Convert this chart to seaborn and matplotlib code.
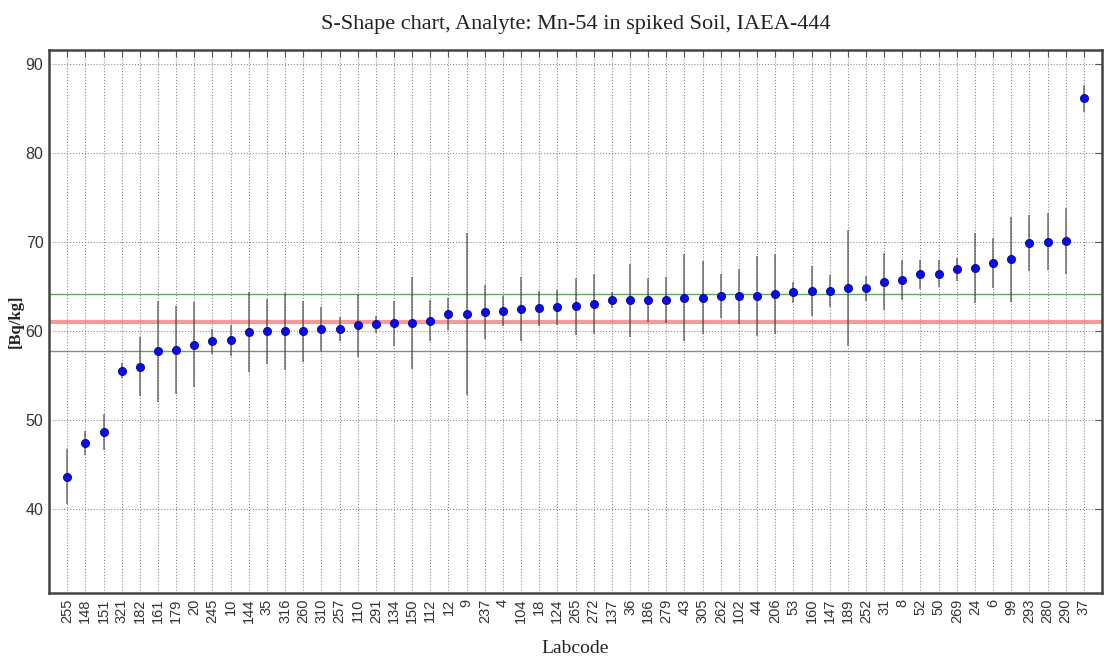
import matplotlib
matplotlib.use("Agg")
import matplotlib.pyplot as plt
import seaborn as sns
import pandas as pd
import numpy as np

# ---- data ----
labcodes = ['255', '148', '151', '321', '182', '161', '179', '20', '245', '10',
            '144', '35', '316', '260', '310', '257', '110', '291', '134', '150',
            '112', '12', '9', '237', '4', '104', '18', '124', '265', '272',
            '137', '36', '186', '279', '43', '305', '262', '102', '44', '206',
            '53', '160', '147', '189', '252', '31', '8', '52', '50', '269',
            '24', '6', '99', '293', '280', '290', '37']
values = [43.65, 47.46, 48.7, 55.6, 56.05, 57.76, 57.9, 58.5, 58.9, 59.0,
          59.9, 60.0, 60.0, 60.0, 60.25, 60.27, 60.67, 60.78, 60.9, 60.94,
          61.2, 61.95, 61.95, 62.17, 62.28, 62.5, 62.58, 62.7, 62.8, 63.07,
          63.5, 63.5, 63.55, 63.55, 63.8, 63.8, 63.96, 63.96, 63.96, 64.2,
          64.37, 64.56, 64.56, 64.86, 64.86, 65.6, 65.77, 66.4, 66.5, 67.0,
          67.1, 67.7, 68.1, 69.93, 70.08, 70.2, 86.2]
uncertainties = [3.08, 1.3, 2.05, 0.84, 3.27, 5.7, 4.95, 4.8, 1.4, 1.77,
                 4.5, 3.64, 4.3, 3.45, 2.5, 1.3, 3.5, 1.0, 2.5, 5.2,
                 2.3, 1.8, 9.1, 3.0, 1.7, 3.6, 2.0, 2.0, 3.2, 3.4,
                 0.9, 4.1, 2.5, 2.6, 4.9, 4.1, 2.5, 3.1, 4.5, 4.5,
                 1.2, 2.8, 1.8, 6.5, 1.4, 3.2, 2.3, 1.6, 1.5, 1.3,
                 3.9, 2.8, 4.8, 3.2, 3.2, 3.7, 1.5]
ref_value = 61.0
ref_unc = 3.2
y_ticks = [40, 50, 60, 70, 80, 90]

df = pd.DataFrame({"Labcode": labcodes, "Value": values, "Unc": uncertainties})
df["pos"] = np.arange(len(df))

sns.set_style("white")
plt.rcParams["font.family"] = ["Liberation Sans", "DejaVu Sans"]

fig, ax = plt.subplots(figsize=(11.07, 6.6), dpi=100)
fig.subplots_adjust(left=0.0443, right=0.9955, top=0.924, bottom=0.1015)

# reference lines
ax.axhline(ref_value, color="#f07070", lw=3, alpha=0.7, zorder=1)
ax.axhline(ref_value + ref_unc, color="#3d8f3d", lw=1, alpha=0.8, zorder=1)
ax.axhline(ref_value - ref_unc, color="#3d8f3d", lw=1, alpha=0.8, zorder=1)

# error bars and points
ax.errorbar(df["pos"], df["Value"], yerr=df["Unc"], fmt="none",
            ecolor="#404040", elinewidth=1.1, alpha=0.75, zorder=2)
sns.scatterplot(data=df, x="pos", y="Value", color="#0c0ce8", s=34,
                edgecolor="#000090", linewidth=0.6, zorder=3, ax=ax,
                legend=False)

ax.set_xlim(-1, len(df))
ax.set_ylim(30.6, 91.6)
ax.set_xticks(df["pos"])
ax.set_xticklabels(df["Labcode"], rotation=90, fontsize=10.5, color="#333333")
ax.set_yticks(y_ticks)
ax.set_yticklabels([str(t) for t in y_ticks], fontsize=11.5, color="#333333")

ax.grid(True, which="major", ls=":", color="#666666", lw=0.8, alpha=0.75)
ax.set_axisbelow(True)
ax.tick_params(direction="in", top=True, right=True, length=5,
               color="#555555", width=0.8, pad=4)
for sp in ax.spines.values():
    sp.set_color("#444444")
    sp.set_linewidth(1.8)

ax.set_title("S-Shape chart, Analyte: Mn-54 in spiked Soil, IAEA-444",
             fontsize=16, family=["Liberation Serif", "DejaVu Serif"],
             color="#222222", pad=15)
ax.set_xlabel("Labcode", fontsize=14, family=["Liberation Serif", "DejaVu Serif"],
              color="#222222", labelpad=12)
ax.set_ylabel("[Bq/kg]", fontsize=12, fontweight="bold",
              family=["Liberation Serif", "DejaVu Serif"], color="#222222",
              labelpad=1.5)

fig.savefig("out.png", dpi=100)
